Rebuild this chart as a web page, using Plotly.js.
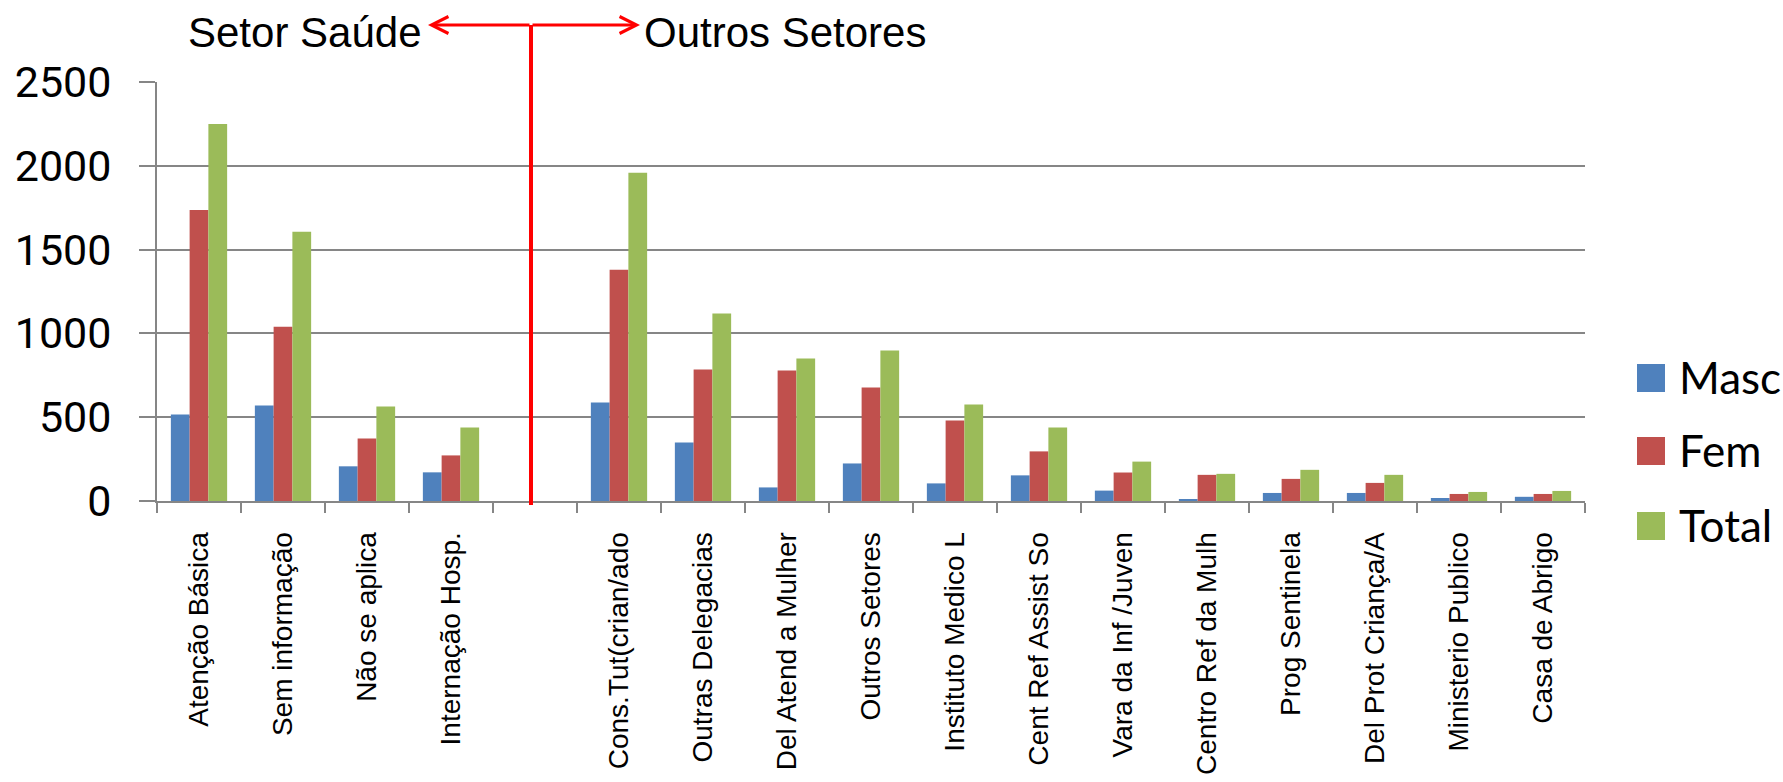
<!DOCTYPE html>
<html>
<head>
<meta charset="utf-8">
<script src="https://cdn.plot.ly/plotly-3.0.1.min.js"></script>
<style>
  html, body { margin: 0; padding: 0; background: #fff; }
  #chart { width: 1783px; height: 782px; }
</style>
</head>
<body>
<div id="chart"></div>
<script>
// ---- data ----
const categories = ['Atenção Básica', 'Sem informação', 'Não se aplica', 'Internação Hosp.', ' ',
  'Cons.Tut(crian/ado', 'Outras Delegacias', 'Del Atend a Mulher', 'Outros Setores',
  'Instituto Medico L', 'Cent Ref Assist So', 'Vara da Inf /Juven', 'Centro Ref da Mulh',
  'Prog Sentinela', 'Del Prot Criança/A', 'Ministerio Publico', 'Casa de Abrigo'];
const masc  = [516, 570, 207, 171, null, 588, 349, 81, 224, 105, 153, 62, 12, 48, 48, 18, 25];
const fem   = [1737, 1040, 373, 272, null, 1380, 784, 778, 677, 481, 296, 170, 156, 132, 108, 42, 42];
const total = [2250, 1606, 564, 439, null, 1958, 1118, 850, 898, 576, 439, 235, 162, 186, 156, 54, 60];
const seriesNames = ['Masc', 'Fem', 'Total'];
const seriesColors = ['#4F81BD', '#C0504D', '#9BBB59'];
const yTicks = [0, 500, 1000, 1500, 2000, 2500];
const groupLeft = 'Setor Saúde';
const groupRight = 'Outros Setores';

// ---- layout geometry (pixels) ----
const W = 1783, H = 782;
const M = {l: 157, r: 198, t: 82, b: 281};
const plotW = W - M.l - M.r, plotH = H - M.t - M.b;
const px2paperX = px => (px - M.l) / plotW;
const px2paperY = py => (H - M.b - py) / plotH;
const catW = plotW / categories.length;
const px2cat = px => (px - M.l) / catW - 0.5;

const values = [masc, fem, total];
const traces = seriesNames.map((name, i) => ({
  type: 'bar', name: name, x: categories, y: values[i],
  marker: {color: seriesColors[i], line: {width: 0}},
  hoverinfo: 'skip'
}));

const gridColor = '#868686';
const arrowY = px2paperY(25);
const dividerX = px2cat(531);

const shapes = [
  {type: 'line', xref: 'x', yref: 'paper', x0: dividerX, x1: dividerX,
   y0: px2paperY(505), y1: arrowY, line: {color: '#FF0000', width: 4}}
];
const annotations = [
  {xref: 'x', yref: 'paper', x: px2cat(428), y: arrowY, text: '', showarrow: true,
   axref: 'pixel', ayref: 'pixel', ax: 531 - 428, ay: 0, arrowhead: 5, arrowsize: 1.1,
   arrowwidth: 3, arrowcolor: '#FF0000', standoff: 0, startstandoff: 0},
  {xref: 'x', yref: 'paper', x: px2cat(640), y: arrowY, text: '', showarrow: true,
   axref: 'pixel', ayref: 'pixel', ax: 531 - 640, ay: 0, arrowhead: 5, arrowsize: 1.1,
   arrowwidth: 3, arrowcolor: '#FF0000', standoff: 0, startstandoff: 0},
  {xref: 'x', yref: 'paper', x: px2cat(424), y: px2paperY(33), text: groupLeft, showarrow: false,
   xanchor: 'right', yanchor: 'middle', font: {family: 'Liberation Sans, Arial, sans-serif', size: 42, color: '#000'}},
  {xref: 'x', yref: 'paper', x: px2cat(642), y: px2paperY(33), text: groupRight, showarrow: false,
   xanchor: 'left', yanchor: 'middle', font: {family: 'Liberation Sans, Arial, sans-serif', size: 42, color: '#000'}}
];

// custom legend (large squares)
const legendY = [378, 451, 526];
seriesNames.forEach((name, i) => {
  shapes.push({type: 'rect', xref: 'paper', yref: 'paper',
    x0: px2paperX(1637), x1: px2paperX(1665),
    y0: px2paperY(legendY[i] + 14), y1: px2paperY(legendY[i] - 14),
    fillcolor: seriesColors[i], line: {width: 0}});
  annotations.push({xref: 'paper', yref: 'paper', x: px2paperX(1677), y: px2paperY(legendY[i] - 1),
    text: name, showarrow: false, xanchor: 'left', yanchor: 'middle',
    font: {family: 'Lato, sans-serif', size: 44, color: '#000'}});
});

const layout = {
  width: W, height: H,
  margin: M,
  paper_bgcolor: '#fff', plot_bgcolor: '#fff',
  showlegend: false,
  barmode: 'group', bargap: 0.33, bargroupgap: 0,
  xaxis: {
    type: 'category', categoryorder: 'array', categoryarray: categories,
    range: [-0.5, categories.length - 0.5],
    showgrid: false, showline: true, linecolor: gridColor, linewidth: 2,
    ticks: 'outside', tickson: 'boundaries', ticklen: 10, tickwidth: 2, tickcolor: gridColor,
    tickangle: -90, ticklabelstandoff: 18,
    tickfont: {family: 'Liberation Sans, Arial, sans-serif', size: 28, color: '#000'},
    automargin: false, zeroline: false, fixedrange: true
  },
  yaxis: {
    range: [0, 2500], tickvals: yTicks, ticktext: yTicks.map(String),
    showgrid: true, gridcolor: gridColor, gridwidth: 2,
    showline: true, linecolor: gridColor, linewidth: 2,
    ticks: 'outside', ticklen: 16, tickwidth: 2, tickcolor: gridColor,
    ticklabelstandoff: 19,
    tickfont: {family: 'Roboto, sans-serif', size: 43, color: '#000'},
    zeroline: false, automargin: false, fixedrange: true
  },
  shapes: shapes,
  annotations: annotations
};

Plotly.newPlot('chart', traces, layout, {displayModeBar: false, staticPlot: true});
</script>
</body>
</html>
